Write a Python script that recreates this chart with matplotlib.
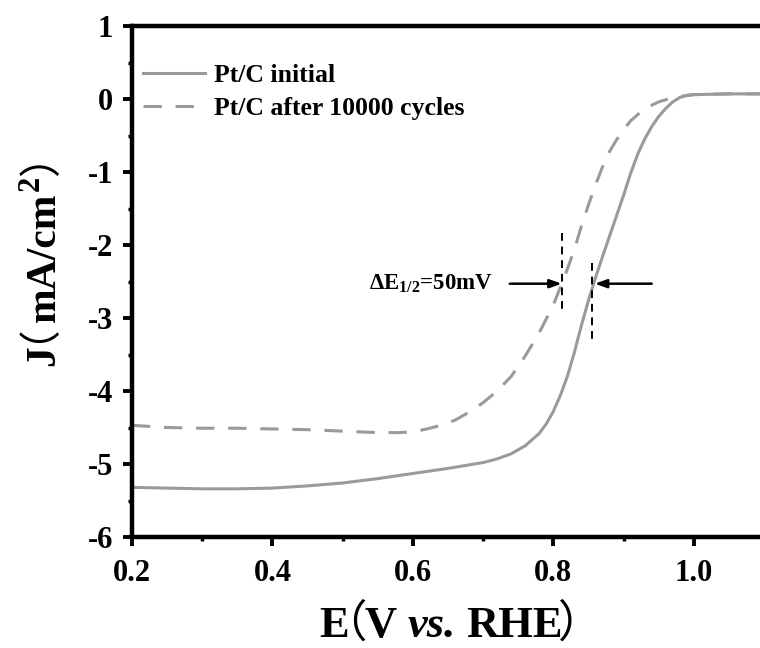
import matplotlib
matplotlib.use("Agg")
import matplotlib.pyplot as plt
from matplotlib.ticker import MultipleLocator
from matplotlib.font_manager import FontProperties, findfont, get_font

# Linear sweep voltammetry curves (E in V vs. RHE, J in mA/cm2)
e_initial = [0.20, 0.25, 0.30, 0.35, 0.40, 0.45, 0.50, 0.55, 0.60, 0.65, 0.70,
             0.72, 0.74, 0.76, 0.78, 0.79, 0.80, 0.81, 0.82, 0.83, 0.84, 0.85,
             0.86, 0.87, 0.88, 0.89, 0.90, 0.91, 0.92, 0.93, 0.94, 0.95, 0.96,
             0.97, 0.98, 0.99, 1.00, 1.05, 1.10]
j_initial = [-5.32, -5.33, -5.34, -5.34, -5.33, -5.30, -5.26, -5.20, -5.13, -5.06, -4.98,
             -4.93, -4.86, -4.75, -4.58, -4.45, -4.28, -4.06, -3.80, -3.47, -3.10, -2.76,
             -2.45, -2.16, -1.88, -1.60, -1.32, -1.02, -0.76, -0.55, -0.38, -0.24, -0.13,
             -0.04, 0.02, 0.05, 0.06, 0.07, 0.07]

e_cycled = [0.20, 0.25, 0.30, 0.35, 0.40, 0.45, 0.50, 0.55, 0.58, 0.60, 0.62, 0.64,
            0.66, 0.68, 0.70, 0.72, 0.74, 0.76, 0.78, 0.80, 0.81, 0.82, 0.83, 0.84,
            0.85, 0.86, 0.87, 0.88, 0.89, 0.90, 0.91, 0.93, 0.95, 0.97, 1.00, 1.05, 1.10]
j_cycled = [-4.47, -4.50, -4.51, -4.51, -4.52, -4.53, -4.55, -4.57, -4.57, -4.56, -4.52, -4.47,
            -4.40, -4.29, -4.16, -4.00, -3.80, -3.52, -3.20, -2.82, -2.58, -2.33, -2.06, -1.74,
            -1.45, -1.18, -0.93, -0.72, -0.56, -0.42, -0.30, -0.13, -0.04, 0.02, 0.06, 0.07, 0.07]

series_labels = ["Pt/C initial", "Pt/C after 10000 cycles"]

x_ticks = [0.2, 0.4, 0.6, 0.8, 1.0]
x_tick_labels = ["0.2", "0.4", "0.6", "0.8", "1.0"]
y_ticks = [-6, -5, -4, -3, -2, -1, 0, 1]
y_tick_labels = ["-6", "-5", "-4", "-3", "-2", "-1", "0", "1"]

# Half-wave potentials marked on the plot
e_half_cycled = 0.812
e_half_initial = 0.855
delta_label = r"$\mathbf{\Delta E_{1/2}}$=50mV"

plt.rcParams["mathtext.fontset"] = "custom"
plt.rcParams["mathtext.rm"] = "Liberation Serif:bold"
plt.rcParams["mathtext.bf"] = "Liberation Serif:bold"
plt.rcParams["mathtext.it"] = "Liberation Serif:italic:bold"
plt.rcParams["axes.unicode_minus"] = False

serif_bold = dict(family="Liberation Serif", weight="bold")
serif_bold_it = dict(family="Liberation Serif", weight="bold", style="italic")
cjk = dict(family="Noto Sans CJK SC", weight="normal")
grey = "#9a9a9a"

W, H, DPI = 760, 648, 100
fig = plt.figure(figsize=(W / DPI, H / DPI), dpi=DPI)
ax = fig.add_axes([132 / W, 111 / H, 632 / W, 511 / H])


def ink_metrics(s, kw, size):
    """Box width and left offset (pixels) of a string as Agg draws it."""
    font = get_font(findfont(FontProperties(size=size, **kw)))
    font.clear()
    font.set_size(size, DPI)
    font.set_text(s, 0.0)
    w = font.get_width_height()[0] / 64.0
    xo = font.get_bitmap_offset()[0] / 64.0
    return w, xo


def mixed_label(pieces, center, baseline, vertical=False):
    """Lay out runs of text with different fonts one after another, centred on `center`.

    pieces: (text, font kwargs, size, gap before in px, rise in px)
    Horizontal: center is x, baseline is y (pixels from bottom-left).
    Vertical (reads bottom to top): center is y, baseline is x.
    """
    mets = [ink_metrics(s, kw, size) for s, kw, size, _, _ in pieces]
    total = sum(m[0] for m in mets) + sum(p[3] for p in pieces)
    cursor = center - total / 2.0
    for (s, kw, size, gap, rise), (w, xo) in zip(pieces, mets):
        cursor += gap
        if vertical:
            fig.text((baseline - rise - xo) / W, cursor / H, s, fontsize=size,
                     rotation=90, rotation_mode="anchor", ha="left", va="baseline", **kw)
        else:
            fig.text((cursor - xo) / W, (baseline + rise) / H, s, fontsize=size,
                     ha="left", va="baseline", **kw)
        cursor += w


ax.plot(e_initial, j_initial, color=grey, lw=2.2, label=series_labels[0])
ax.plot(e_cycled, j_cycled, color=grey, lw=2.2, dashes=(6, 4.5), label=series_labels[1])

ax.set_xlim(0.2, 1.1)
ax.set_ylim(-6, 1)

ax.set_xticks(x_ticks)
ax.set_xticklabels(x_tick_labels, **serif_bold, fontsize=22)
ax.set_yticks(y_ticks)
ax.set_yticklabels(y_tick_labels, **serif_bold, fontsize=22)
ax.xaxis.set_minor_locator(MultipleLocator(0.1))
ax.yaxis.set_minor_locator(MultipleLocator(0.5))
ax.tick_params(which="major", direction="out", length=6.5, width=2.8, pad=7)
ax.tick_params(axis="x", which="major", pad=9)
ax.tick_params(which="minor", direction="out", length=3, width=2.5)
ax.tick_params(top=False, right=False, which="both")

for side in ["left", "bottom", "top"]:
    ax.spines[side].set_linewidth(3.2)
ax.spines["right"].set_visible(False)

ax.legend(loc="upper left", bbox_to_anchor=(0.018, 0.925), frameon=False,
          prop=dict(family="Liberation Serif", weight="bold", size=18.5),
          handlelength=2.4, handletextpad=0.35, labelspacing=0.38,
          borderpad=0, borderaxespad=0)

# Half-wave potential markers
ax.plot([e_half_cycled, e_half_cycled], [-1.84, -2.89], color="black", lw=1.4, dashes=(4, 3))
ax.plot([e_half_initial, e_half_initial], [-2.25, -3.34], color="black", lw=1.4, dashes=(4, 3))
arrow = dict(arrowstyle="-|>,head_length=0.7,head_width=0.25", color="black", lw=1.8,
             shrinkA=0, shrinkB=0)
ax.annotate("", xy=(e_half_cycled, -2.53), xytext=(0.738, -2.53), arrowprops=arrow)
ax.annotate("", xy=(e_half_initial + 0.004, -2.53), xytext=(0.940, -2.53), arrowprops=arrow)
ax.text(0.538, -2.53, delta_label, fontsize=16.5, ha="left", va="center", **serif_bold)

# Axis titles with full-width parentheses
mixed_label([("E", serif_bold, 32, 0, 0),
             ("（", cjk, 32, 3, 0),
             ("V", serif_bold, 32, -32, 0),
             ("vs.", serif_bold_it, 32, 10, 0),
             ("RHE", serif_bold, 32, 11, 0),
             ("）", cjk, 32, -4, 0)],
            center=462, baseline=H - 637)
mixed_label([("J", serif_bold, 30, 0, 0),
             ("（", cjk, 30, 2, 0),
             ("mA/cm", serif_bold, 30, -21, 0),
             ("2", serif_bold, 22, 2, 16),
             ("）", cjk, 30, 0, 0)],
            center=H - 250, baseline=56, vertical=True)

fig.savefig("out.png", dpi=DPI)
